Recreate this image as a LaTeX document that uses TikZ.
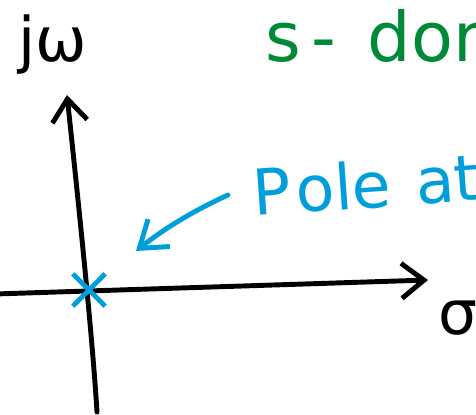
\documentclass[tikz,border=0pt]{standalone}
\usepackage{fontspec}
\setmainfont{DejaVu Sans}
\usepackage{tikz}
\usetikzlibrary{arrows.meta, shapes.misc}
\definecolor{penblue}{RGB}{0,158,219}
\definecolor{pengreen}{RGB}{0,137,54}
\definecolor{penblack}{RGB}{0,0,0}

\begin{document}
\begin{tikzpicture}[
  x=0.02cm, y=-0.02cm,
  pen/.style={line width=2.8pt, line cap=round, line join=round},
  axis/.style={pen, draw=penblack, -{Straight Barb[length=4.5mm, width=7mm, line width=2.8pt]}},
  pointer/.style={pen, draw=penblue, -{Straight Barb[length=5mm, width=7mm, line width=2.8pt]}},
  polemark/.style={cross out, draw=penblue, line width=2.8pt, minimum size=0.55cm, inner sep=0pt},
  bigtxt/.style={anchor=base west, inner sep=0pt, font=\fontsize{36}{42}\selectfont},
  axtxt/.style={anchor=base west, inner sep=0pt, font=\fontsize{35}{40}\selectfont},
]
  \useasboundingbox (0,0) rectangle (476,415);
  \clip (0,0) rectangle (476,415);

  % axes
  \coordinate (hstart) at (-5,294);
  \coordinate (hend) at (428,280);
  \draw[axis] (hstart) -- (hend);
  \coordinate (vstart) at (97,412);
  \coordinate (vend) at (67,95);
  \draw[axis] (vstart) .. controls (92,330) and (76,180) .. (vend);

  \node[axtxt] (jw) at (18,62) {jω};
  \node[axtxt] (sigma) at (438,334) {σ};

  % pole at the origin
  \node[polemark] (pole) at (89,290) {};
  \node[bigtxt, text=penblue, rotate=4] (poletxt) at (254,216) {P\hspace{3pt}ole\hspace{14pt}at};
  \coordinate (ptail) at (228,195);
  \coordinate (phead) at (136,251);
  \draw[pointer] (ptail) .. controls (195,210) and (165,228) .. (phead);

  \node[bigtxt, text=pengreen, font=\fontsize{39}{44}\selectfont] (sdom) at (265,62) {s\hspace{6pt}-\hspace{18pt}dom};
\end{tikzpicture}
\end{document}
